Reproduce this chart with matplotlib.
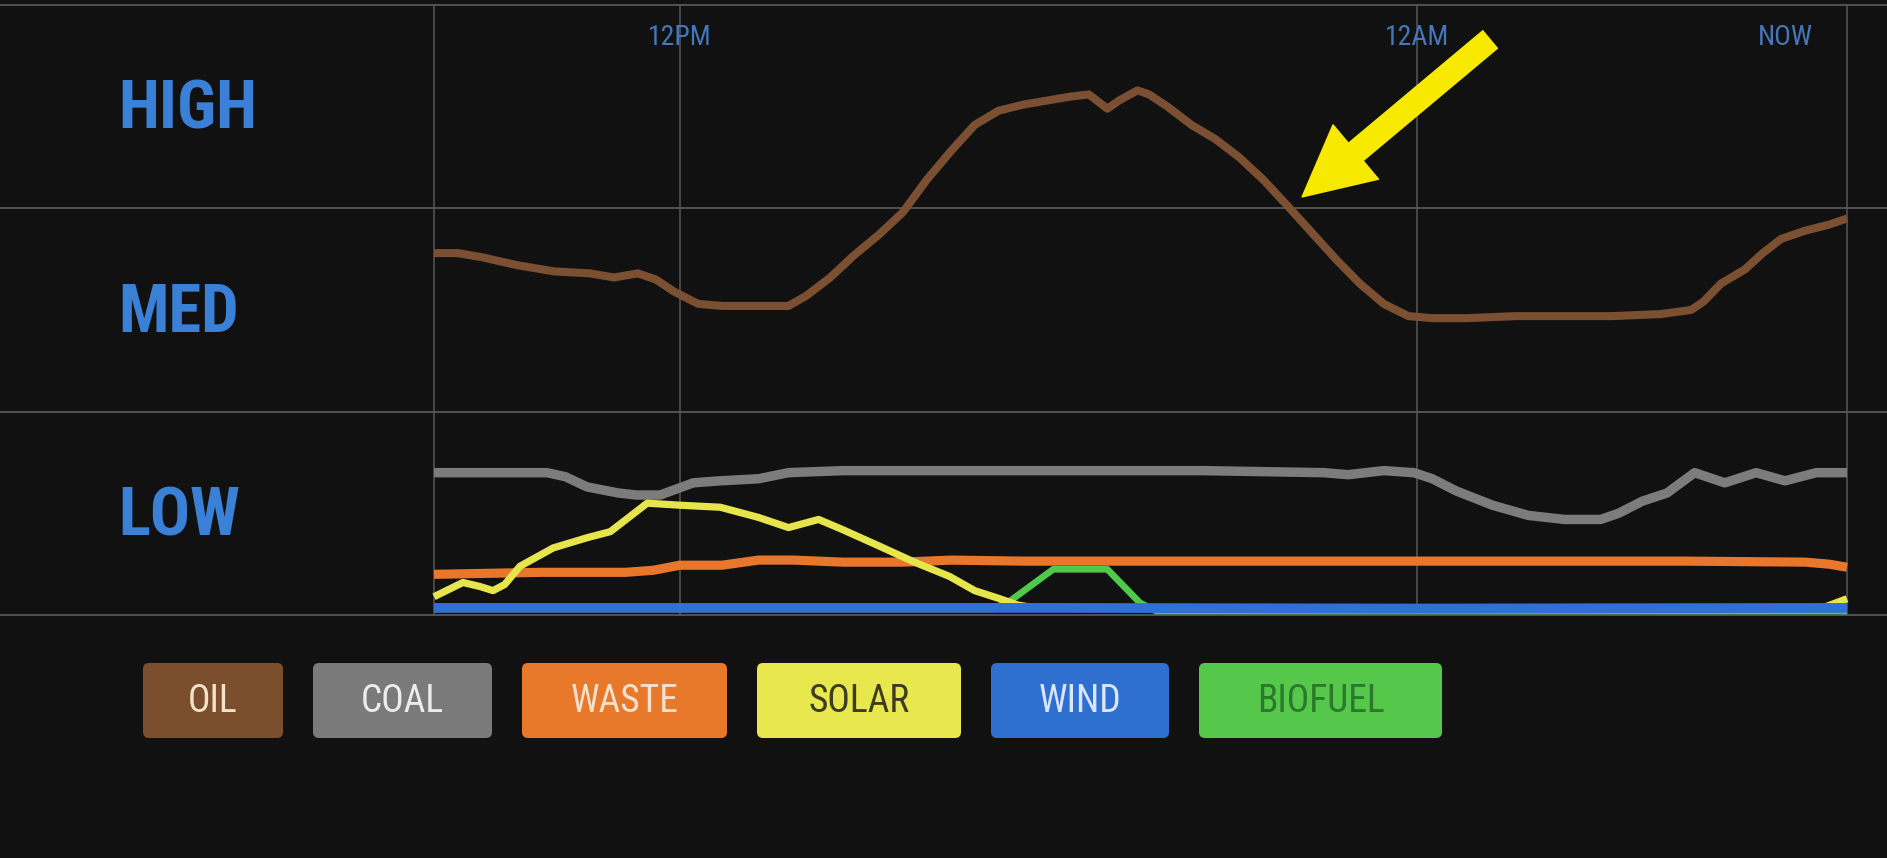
import matplotlib.pyplot as plt
from matplotlib.patches import FancyBboxPatch

plt.rcParams['font.family'] = ['DejaVu Sans']
narrow = ['Roboto Condensed', 'Open Sans Condensed', 'Liberation Sans Narrow', 'DejaVu Sans']

# Data: hours relative to 12PM (start ~8AM, NOW ~7AM), level 0..3 (LOW/MED/HIGH bands)
oil_hours = [-4.0, -3.62, -3.23, -2.64, -2.05, -1.46, -1.07, -0.68, -0.39, -0.09, 0.30, 0.69,
             1.28, 1.77, 2.06, 2.45, 2.84, 3.24, 3.63, 4.02, 4.41, 4.80, 5.19, 5.59, 5.98, 6.37,
             6.66, 6.96, 7.15, 7.45, 7.64, 7.94, 8.33, 8.72, 9.11, 9.50, 9.90, 10.29, 10.68,
             11.07, 11.46, 11.86, 12.25, 12.83, 13.62, 14.40, 15.19, 15.97, 16.46, 16.66, 16.95,
             17.34, 17.63, 17.93, 18.32, 18.71, 19.0]
oil_level = [1.78, 1.78, 1.76, 1.72, 1.69, 1.68, 1.66, 1.68, 1.65, 1.59, 1.53, 1.52,
             1.52, 1.52, 1.57, 1.66, 1.77, 1.87, 1.98, 2.14, 2.28, 2.41, 2.48, 2.51, 2.53, 2.55,
             2.56, 2.49, 2.53, 2.58, 2.56, 2.50, 2.41, 2.34, 2.25, 2.14, 2.01, 1.88, 1.75,
             1.63, 1.53, 1.47, 1.46, 1.46, 1.47, 1.47, 1.47, 1.48, 1.50, 1.54, 1.63,
             1.70, 1.78, 1.85, 1.89, 1.92, 1.95]

coal_hours = [-4.0, -2.16, -1.86, -1.51, -1.0, -0.70, -0.32, 0.22, 0.66, 1.28, 1.77, 2.65, 4.61,
              6.57, 8.53, 10.48, 10.88, 11.46, 11.95, 12.25, 12.64, 13.23, 13.81, 14.40, 14.99,
              15.28, 15.67, 16.07, 16.52, 17.01, 17.52, 17.99, 18.50, 19.0]
coal_level = [0.70, 0.70, 0.68, 0.63, 0.60, 0.59, 0.59, 0.65, 0.66, 0.67, 0.70, 0.71, 0.71,
              0.71, 0.71, 0.70, 0.69, 0.71, 0.70, 0.67, 0.61, 0.54, 0.49, 0.47, 0.47,
              0.50, 0.56, 0.60, 0.70, 0.65, 0.70, 0.66, 0.70, 0.70]

waste_hours = [-4.0, -2.25, -0.88, -0.43, 0.0, 0.69, 1.28, 1.86, 2.65, 3.63, 4.41, 5.59, 8.53,
               12.44, 16.36, 18.32, 18.71, 19.0]
waste_level = [0.20, 0.21, 0.21, 0.22, 0.245, 0.245, 0.27, 0.27, 0.26, 0.26, 0.27, 0.265, 0.265,
               0.265, 0.265, 0.26, 0.25, 0.235]

solar_hours = [-4.0, -3.53, -3.25, -3.04, -2.85, -2.60, -2.06, -1.51, -1.13, -0.53, 0.0, 0.66,
               1.28, 1.77, 2.26, 2.65, 3.24, 3.82, 4.39, 4.80, 5.21, 5.49, 5.78, 18.6, 19.0]
solar_level = [0.09, 0.16, 0.14, 0.12, 0.15, 0.24, 0.33, 0.38, 0.41, 0.55, 0.54, 0.53,
               0.48, 0.43, 0.47, 0.42, 0.34, 0.26, 0.19, 0.12, 0.08, 0.05, 0.035, 0.035, 0.08]

wind_hours = [-4.0, 6.0, 12.0, 19.0]
wind_level = [0.035, 0.035, 0.032, 0.035]

biofuel_hours = [-4.0, 5.1, 5.38, 6.08, 6.96, 7.49, 7.75, 19.0]
biofuel_level = [0.03, 0.03, 0.07, 0.225, 0.225, 0.06, 0.02, 0.02]

sources = ['OIL', 'COAL', 'WASTE', 'SOLAR', 'WIND', 'BIOFUEL']
band_labels = ['LOW', 'MED', 'HIGH']
tick_hours = [0, 12, 18]
tick_labels = ['12PM', '12AM', 'NOW']

line_colors = ['#7b4f32', '#7c7c7c', '#e8772c', '#e6e64c', '#2f6fd6', '#4fc94a']
box_colors = ['#7b4f2e', '#7a7a7a', '#e8782a', '#e8e84e', '#2f6fd0', '#55c84b']
text_colors = ['#f1e2c8', '#ececec', '#f6e1cf', '#3c3c1e', '#d8e6ff', '#2b7a2b']
bg = '#111111'
grid_col = '#575757'

fig = plt.figure(figsize=(18.87, 8.58), dpi=100, facecolor=bg)
ax = fig.add_axes([0, 0.2832, 1, 0.711])
ax.set_facecolor(bg)
ax.set_xlim(-11.065, 19.651)
ax.set_ylim(0, 3)
ax.axis('off')

# grid
for y in range(4):
    ax.axhline(y, color=grid_col, lw=1.3, clip_on=False, zorder=1)
ax.vlines([-4, 0, 12, 19], 0, 3, color=grid_col, lw=1.1, zorder=1)

# series
series = [(oil_hours, oil_level, 5.8, 3), (coal_hours, coal_level, 6.8, 3),
          (waste_hours, waste_level, 6.6, 4), (solar_hours, solar_level, 5.2, 5),
          (wind_hours, wind_level, 7.0, 6), (biofuel_hours, biofuel_level, 4.8, 3.5)]
for (hrs, lvl, lw, z), col in zip(series, line_colors):
    ax.plot(hrs, lvl, color=col, lw=lw, solid_capstyle='butt', solid_joinstyle='round',
            zorder=z, clip_on=False)

# band labels
for i, lab in enumerate(band_labels):
    ax.text(-9.14, i + 0.48, lab, color='#3a80d6', fontsize=48, fontweight='bold',
            family=narrow, fontstretch='condensed', ha='left', va='center')

# time labels
for h, lab in zip(tick_hours, tick_labels):
    ax.text(h, 2.84, lab, color='#4677bb', fontsize=20, family=narrow,
            fontstretch='condensed', ha='center', va='center')

# arrow
ax.annotate('', xy=(10.13, 2.056), xytext=(13.19, 2.83),
            arrowprops=dict(arrowstyle='simple,head_length=2.52,head_width=2.55,tail_width=0.82',
                            color='#f7ea00', mutation_scale=20, shrinkA=0, shrinkB=0),
            zorder=10)

# legend boxes (pixel coordinates overlay)
lax = fig.add_axes([0, 0, 1, 1])
lax.set_xlim(0, 1887)
lax.set_ylim(0, 858)
lax.axis('off')
lax.patch.set_alpha(0)
box_widths = [140, 179, 205, 204, 178, 243]
x0 = 143
for name, w, fc, tc in zip(sources, box_widths, box_colors, text_colors):
    lax.add_patch(FancyBboxPatch((x0, 120), w, 75, boxstyle='round,pad=0,rounding_size=6',
                                 fc=fc, ec='none'))
    lax.text(x0 + w / 2, 157, name, color=tc, fontsize=27, family=narrow,
             fontstretch='condensed', ha='center', va='center')
    x0 += w + 30

fig.savefig('out.png', dpi=100, facecolor=bg)
